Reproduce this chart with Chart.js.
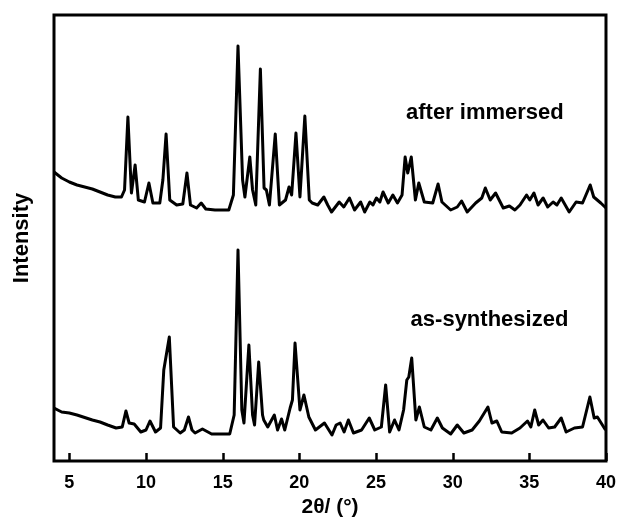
<!DOCTYPE html>
<html>
<head>
<meta charset="utf-8">
<script src="https://cdn.jsdelivr.net/npm/chart.js@4/dist/chart.umd.min.js"></script>
<style>
  html, body { margin: 0; padding: 0; background: #fff; }
  #wrap { width: 627px; height: 525px; }
</style>
</head>
<body>
<div id="wrap"><canvas id="xrdChart" width="627" height="525"></canvas></div>
<script>
// 2-theta tick labels
const tickVals = [5, 10, 15, 20, 25, 30, 35, 40];

// "after immersed" pattern (offset upward)
const afterX = [4.0, 4.5, 5.0, 5.5, 6.0, 6.5, 7.0, 7.5, 8.0, 8.4, 8.6, 8.82, 9.05, 9.29, 9.5, 9.9, 10.19, 10.45, 10.9, 11.1,
  11.31, 11.55, 12.0, 12.4, 12.67, 12.9, 13.3, 13.6, 13.9, 14.5, 15.4, 15.7, 16.0, 16.3, 16.45, 16.77, 16.95, 17.16, 17.46, 17.7,
  17.85, 18.05, 18.43, 18.7, 19.1, 19.33, 19.5, 19.78, 20.04, 20.36, 20.65, 20.84, 21.2, 21.6, 21.85, 22.1, 22.6, 22.9, 23.27, 23.6,
  24.0, 24.26, 24.6, 24.8, 25.03, 25.25, 25.46, 25.8, 26.1, 26.4, 26.7, 26.9, 27.07, 27.3, 27.57, 27.79, 28.15, 28.7, 29.05, 29.3,
  29.87, 30.3, 30.58, 30.95, 31.5, 31.9, 32.13, 32.45, 32.8, 33.3, 33.7, 34.06, 34.39, 34.82, 35.03, 35.3, 35.57, 35.9, 36.2, 36.55,
  36.8, 37.08, 37.6, 38.05, 38.47, 38.97, 39.2, 39.66, 40.0];
const afterY = [289, 283, 279, 276, 274, 272, 269, 266, 264, 264, 271, 344, 268, 296, 261, 259, 278, 258, 258, 281,
  327, 261, 256, 257, 288, 256, 253, 258, 252, 251, 251, 266, 415, 281, 264, 304, 271, 256, 392, 273,
  271, 256, 327, 256, 261, 274, 266, 328, 264, 345, 261, 258, 256, 264, 256, 249, 259, 254, 263, 251,
  259, 249, 259, 256, 263, 259, 269, 258, 266, 258, 266, 304, 288, 304, 261, 278, 259, 258, 277, 259,
  251, 254, 260, 249, 258, 263, 273, 261, 268, 253, 255, 251, 256, 266, 261, 268, 256, 263, 254, 259,
  256, 263, 249, 259, 258, 276, 264, 258, 253];

// "as-synthesized" pattern
const asSynX = [4.0, 4.5, 5.0, 5.5, 5.9, 6.5, 7.0, 7.5, 8.05, 8.45, 8.69, 8.9, 9.23, 9.66, 10.0, 10.26, 10.62, 10.95, 11.16, 11.52,
  11.8, 12.23, 12.5, 12.77, 13.0, 13.2, 13.68, 14.28, 15.46, 15.75, 16.0, 16.25, 16.39, 16.71, 16.95, 17.08, 17.35, 17.6, 17.68, 17.94,
  18.37, 18.58, 18.84, 19.05, 19.4, 19.55, 19.72, 20.04, 20.3, 20.62, 21.05, 21.64, 22.13, 22.4, 22.66, 22.92, 23.2, 23.53, 24.06, 24.56,
  24.92, 25.35, 25.63, 25.89, 26.21, 26.5, 26.8, 27.01, 27.14, 27.33, 27.6, 27.83, 28.15, 28.58, 29.0, 29.33, 29.87, 30.3, 30.73, 31.27,
  31.74, 32.3, 32.56, 32.88, 33.2, 33.85, 34.39, 34.88, 35.1, 35.35, 35.61, 35.89, 36.26, 36.65, 37.08, 37.4, 37.94, 38.47, 38.95, 39.23,
  39.44, 39.97];
const asSynY = [53, 49, 48, 46, 44, 41, 39, 36, 33, 34, 50, 38, 37, 29, 31, 40, 29, 33, 91, 124,
  34, 28, 31, 44, 31, 28, 32, 27, 27, 46, 211, 51, 38, 116, 46, 36, 99, 46, 41, 34,
  46, 31, 42, 31, 53, 61, 118, 51, 66, 44, 31, 38, 26, 36, 38, 29, 41, 28, 31, 43,
  31, 34, 76, 29, 41, 31, 51, 81, 84, 103, 41, 54, 34, 31, 43, 33, 27, 36, 28, 31,
  40, 54, 38, 40, 29, 28, 33, 40, 34, 51, 36, 41, 33, 34, 43, 29, 33, 34, 64, 43,
  44, 31];

const seriesNames = ['after immersed', 'as-synthesized'];

const FONT = "'Liberation Sans', Arial, Helvetica, sans-serif";

function toPoints(xs, ys) {
    return xs.map((x, i) => ({ x: x, y: ys[i] }));
}

// frame, inward ticks and curve labels
const framePlugin = {
    id: 'frame',
    afterDatasetsDraw(chart, args, opts) {
        const { ctx, chartArea: a, scales } = chart;
        ctx.save();
        ctx.strokeStyle = '#000';
        ctx.lineWidth = 2.5;
        ctx.beginPath();
        scales.x.ticks.forEach(t => {
            const px = Math.round(scales.x.getPixelForValue(t.value)) + 0.5;
            ctx.moveTo(px, a.bottom);
            ctx.lineTo(px, a.bottom - 8);
        });
        ctx.stroke();
        ctx.lineWidth = 3;
        ctx.strokeRect(a.left, a.top, a.right - a.left, a.bottom - a.top);

        ctx.fillStyle = '#000';
        ctx.font = 'bold 22px ' + FONT;
        ctx.textAlign = 'center';
        ctx.textBaseline = 'middle';
        opts.labels.forEach(l => {
            ctx.fillText(l.text, scales.x.getPixelForValue(l.x), scales.y.getPixelForValue(l.y));
        });
        ctx.restore();
    }
};

new Chart(document.getElementById('xrdChart'), {
    type: 'line',
    data: {
        datasets: [
            {
                label: seriesNames[0],
                data: toPoints(afterX, afterY),
                borderColor: '#000',
                borderWidth: 3,
                borderJoinStyle: 'round',
                pointRadius: 0,
                tension: 0
            },
            {
                label: seriesNames[1],
                data: toPoints(asSynX, asSynY),
                borderColor: '#000',
                borderWidth: 3,
                borderJoinStyle: 'round',
                pointRadius: 0,
                tension: 0
            }
        ]
    },
    options: {
        responsive: false,
        animation: false,
        events: [],
        layout: { padding: { top: 15, right: 14, left: 0, bottom: 0 } },
        scales: {
            x: {
                type: 'linear',
                min: 4,
                max: 40,
                afterBuildTicks: s => { s.ticks = tickVals.map(v => ({ value: v })); },
                afterFit: s => { s.height = 64; },
                grid: { display: false, drawTicks: false },
                border: { display: false },
                ticks: {
                    color: '#000',
                    padding: 11,
                    maxRotation: 0,
                    autoSkip: false,
                    font: { family: FONT, size: 18, weight: 'bold' }
                },
                title: {
                    display: true,
                    text: '2θ/ (°)',
                    color: '#000',
                    padding: { top: 0, bottom: 5 },
                    font: { family: FONT, size: 21, weight: 'bold' }
                }
            },
            y: {
                min: 0,
                max: 446,
                afterFit: s => { s.width = 54; },
                grid: { display: false, drawTicks: false },
                border: { display: false },
                ticks: { display: false },
                title: {
                    display: true,
                    text: 'Intensity',
                    color: '#000',
                    padding: { top: 9, bottom: 0 },
                    font: { family: FONT, size: 22, weight: 'bold' }
                }
            }
        },
        plugins: {
            legend: { display: false },
            tooltip: { enabled: false },
            frame: {
                labels: [
                    { text: seriesNames[0], x: 32.1, y: 348 },
                    { text: seriesNames[1], x: 32.4, y: 141 }
                ]
            }
        }
    },
    plugins: [framePlugin]
});
</script>
</body>
</html>
